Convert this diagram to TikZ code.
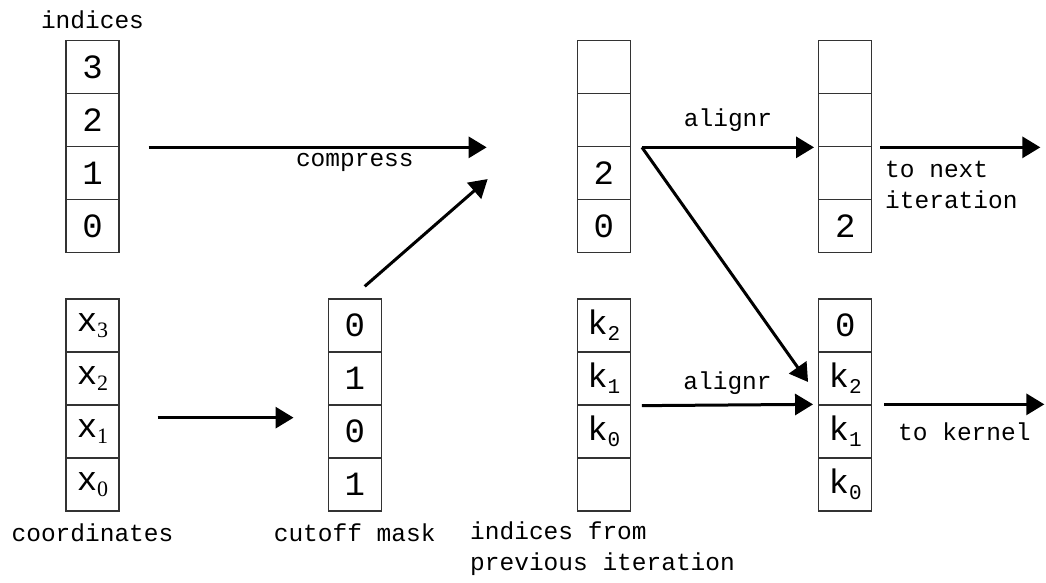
\documentclass[tikz,border=0pt]{standalone}
\usepackage{fontspec}
\setmainfont{Liberation Mono}
\newfontfamily\serifsub{Liberation Serif}
\usetikzlibrary{arrows.meta}
\newcommand{\xsub}[1]{x\raisebox{-6pt}{\fontsize{22}{22}\serifsub #1}}
\newcommand{\ksub}[1]{k\raisebox{-6pt}{\fontsize{21}{21}\selectfont #1}}
\begin{document}
\begin{tikzpicture}[x=1pt,y=-1pt,
  cell/.style={draw=black!80, line width=1.3pt, minimum width=53pt, minimum height=53pt,
    inner sep=0pt, font=\fontsize{34}{34}\selectfont},
  lbl/.style={inner sep=0pt, font=\fontsize{24.5}{31}\selectfont},
  arr/.style={line width=3pt, -{Triangle[length=18pt,width=21pt]}}]
\useasboundingbox (0,0) rectangle (1046,583);
% indices
\node[cell] (a3) at (92.5,67.2) {3};
\node[cell] (a2) at (92.5,120.2) {2};
\node[cell] (a1) at (92.5,173.2) {1};
\node[cell] (a0) at (92.5,226.2) {0};
\node[lbl] (ilab) at (92.5,20) {indices};
% coordinates
\node[cell] (x3) at (92.5,325.5) {\xsub{3}};
\node[cell] (x2) at (92.5,378.5) {\xsub{2}};
\node[cell] (x1) at (92.5,431.5) {\xsub{1}};
\node[cell] (x0) at (92.5,484.5) {\xsub{0}};
\node[lbl] (xlab) at (92.5,533) {coordinates};
% mask
\node[cell] (m3) at (354.7,325.5) {0};
\node[cell] (m2) at (354.7,378.5) {1};
\node[cell] (m1) at (354.7,431.5) {0};
\node[cell] (m0) at (354.7,484.5) {1};
\node[lbl] (mlab) at (354.7,533) {cutoff mask};
% compressed
\node[cell] (c3) at (603.8,67.2) {};
\node[cell] (c2) at (603.8,120.2) {};
\node[cell] (c1) at (603.8,173.2) {2};
\node[cell] (c0) at (603.8,226.2) {0};
% next iteration column
\node[cell] (d3) at (845.2,67.2) {};
\node[cell] (d2) at (845.2,120.2) {};
\node[cell] (d1) at (845.2,173.2) {};
\node[cell] (d0) at (845.2,226.2) {2};
% previous iteration
\node[cell] (ck2) at (603.8,325.5) {\ksub{2}};
\node[cell] (ck1) at (603.8,378.5) {\ksub{1}};
\node[cell] (ck0) at (603.8,431.5) {\ksub{0}};
\node[cell] (ce) at (603.8,484.5) {};
\node[lbl, align=left, anchor=west] (plab) at (470,548.5) {indices from\\previous iteration};
% kernel column
\node[cell] (e0) at (845.2,325.5) {0};
\node[cell] (ek2) at (845.2,378.5) {\ksub{2}};
\node[cell] (ek1) at (845.2,431.5) {\ksub{1}};
\node[cell] (ek0) at (845.2,484.5) {\ksub{0}};
% arrows
\draw[arr] ([xshift=29pt]a2.south east) -- ([xshift=-90pt]c2.south west)
  node[lbl, pos=0.61, yshift=-15pt] {compress};
\draw[arr] ([shift={(38pt,-12pt)}]x2.south east) -- ([shift={(-34pt,-12pt)}]m2.south west);
\draw[arr] ([shift={(10pt,12pt)}]m3.north) -- ([shift={(-89pt,-33pt)}]c1.north west);
\coordinate (split) at ([xshift=11pt]c2.south east);
\draw[arr] (split) -- ([xshift=-4pt]d2.south west)
  node[lbl, midway, yshift=27pt] {alignr};
\draw[arr] (split) -- ([shift={(-10pt,-3.5pt)}]ek2.west);
\draw[arr] ([xshift=8pt]d2.south east) -- ([xshift=168pt]d2.south east);
\node[lbl, align=left, anchor=west] (nlab) at (885,185) {to next\\iteration};
\draw[arr] ([xshift=11pt]ck1.south east) -- ([xshift=-5pt]ek1.north west)
  node[lbl, midway, yshift=22pt] {alignr};
\draw[arr] ([xshift=12pt]ek1.north east) -- ([xshift=172pt]ek1.north east)
  node[lbl, midway, yshift=-27pt] {to kernel};
\end{tikzpicture}
\end{document}
